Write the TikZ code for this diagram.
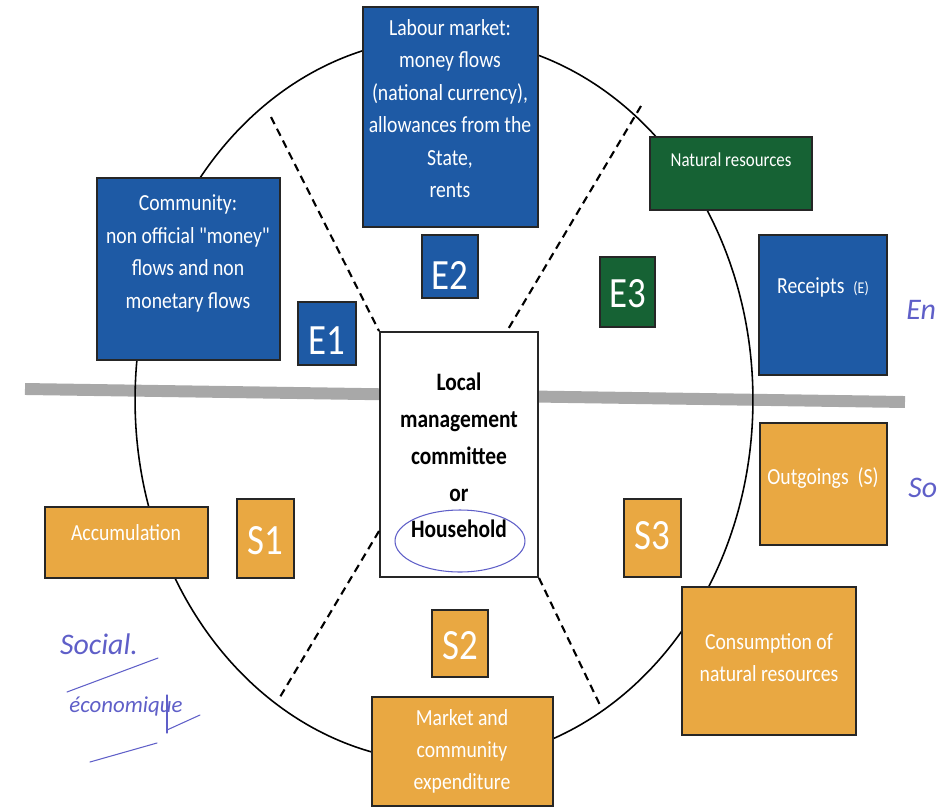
\documentclass[tikz,border=0pt]{standalone}
\usepackage{fontspec}
\setmainfont{Carlito}
\usepackage{graphicx}
\usetikzlibrary{fit, calc, shapes.geometric}

\definecolor{flowblue}{RGB}{30,90,165}
\definecolor{flowgreen}{RGB}{22,98,52}
\definecolor{flowgold}{RGB}{233,168,66}
\definecolor{bargray}{RGB}{168,168,168}
\definecolor{penblue}{RGB}{95,95,200}

\newcommand{\tall}[1]{\scalebox{1}[1.17]{#1}}
\newcommand{\tallbox}[1]{\scalebox{1}[1.17]{\begin{tabular}{@{}c@{}}#1\end{tabular}}}

\tikzset{
    box/.style = {draw=black!85, line width=1.1pt, inner sep=0pt},
    bluebox/.style = {box, fill=flowblue},
    greenbox/.style = {box, fill=flowgreen},
    goldbox/.style = {box, fill=flowgold},
    boxtext/.style = {text=white, inner sep=0pt, font=\fontsize{11.2}{15.8}\selectfont},
    tagtext/.style = {text=white, inner sep=0pt, font=\fontsize{21}{21}\selectfont},
    divider/.style = {dash pattern=on 4.5pt off 3pt, line width=1.2pt},
    pen/.style = {draw=penblue, line width=0.6pt, line cap=round},
    scrawl/.style = {text=penblue, inner sep=0pt, font=\itshape\fontsize{17}{19}\selectfont},
}

\begin{document}
\begin{tikzpicture}[x=0.02cm, y=-0.02cm]
    \useasboundingbox (0,0) rectangle (938,809);

    % bar between receipts and outgoings, and the ring
    \coordinate (barL) at (25,389);
    \coordinate (barR) at (905,402);
    \draw[draw=bargray, line width=6.8pt] (barL) -- (barR);
    \node[draw, ellipse, line width=0.9pt, inner sep=0pt,
          minimum width=12.36cm, minimum height=14.48cm] (ring) at (444,400) {};

    % central box
    \node[box, fill=white, fit={(380,332) (538,577)}] (hh) {};
    \node[inner sep=0pt, font=\bfseries\fontsize{12.2}{17.9}\selectfont] (hh-t) at (459,457)
        {\tallbox{Local\\management\\committee\\or\\Household}};

    % dashed sectors
    \coordinate (cut-nw) at (271,117);
    \coordinate (cut-ne) at (641,106);
    \coordinate (cut-sw) at (280,697);
    \coordinate (cut-se) at (600,705);
    \draw[divider] (cut-nw) -- (hh.north west);
    \draw[divider] (cut-ne) -- ($(hh.north west)!0.8!(hh.north east)$);
    \draw[divider] ($(hh.north west)!0.81!(hh.south west)$) -- (cut-sw);
    \draw[divider] (hh.south east) -- (cut-se);

    % receipts
    \node[bluebox, fit={(363,7) (538,227)}] (labour) {};
    \node[boxtext] (labour-t) at (450,110)
        {\tallbox{Labour market:\\money flows\\(national currency),\\allowances from the\\State,\\rents}};
    \node[bluebox, fit={(97,178) (280,360)}] (community) {};
    \node[boxtext] (community-t) at (188,253)
        {\tallbox{Community:\\non official \textquotedbl money\textquotedbl\\flows and non\\monetary flows}};
    \node[greenbox, fit={(650,137) (812,210)}] (nature) {};
    \node[boxtext, font=\fontsize{9.6}{12}\selectfont] (nature-t) at (731,160)
        {\tall{Natural resources}};
    \node[bluebox, fit={(759,235) (887,375)}] (receipts) {};
    \node[boxtext] (receipts-t) at (823,287)
        {\tall{Receipts\ \ {\fontsize{8}{10}\selectfont(E)}}};

    % outgoings
    \node[goldbox, fit={(760,423) (887,545)}] (outgoings) {};
    \node[boxtext] (outgoings-t) at (823,478) {\tall{Outgoings\ \ (S)}};
    \node[goldbox, fit={(45,507) (208,578)}] (accum) {};
    \node[boxtext] (accum-t) at (126,533) {\tall{Accumulation}};
    \node[goldbox, fit={(682,587) (856,735)}] (consum) {};
    \node[boxtext] (consum-t) at (769,659)
        {\tallbox{Consumption of\\natural resources}};
    \node[goldbox, fit={(372,697) (553,806)}] (market) {};
    \node[boxtext] (market-t) at (462,751)
        {\tallbox{Market and\\community\\expenditure}};

    % sector tags
    \foreach \Tag/\Fill/\xa/\ya/\xb/\yb/\Dy in {%
        E1/flowblue/298/302/356/365/7,
        E2/flowblue/422/235/478/298/9,
        E3/flowgreen/600/257/655/327/2,
        S1/flowgold/237/499/294/578/2,
        S2/flowgold/432/610/488/677/2,
        S3/flowgold/624/499/681/577/-2%
        }
    {
        \node[box, fill=\Fill, fit={(\xa,\ya) (\xb,\yb)}] (\Tag) {};
        \node[tagtext] (\Tag-t) at ($(\Tag.center)+(0,\Dy)$) {\tall{\Tag}};
    }

    % handwritten notes
    \draw[pen] (460,541) ellipse [x radius=1.3cm, y radius=0.62cm];
    \node[scrawl] (social) at (99,644) {Social.};
    \node[scrawl, font=\itshape\fontsize{13}{15}\selectfont] (econ) at (126,706) {économique};
    \draw[pen] (67,692) -- (158,658);
    \draw[pen] (167,695) -- (167,733);
    \draw[pen] (167,730) -- (200,715);
    \draw[pen] (90,762) -- (157,743);
    \node[scrawl, anchor=west] (entr) at (906,310) {En};
    \node[scrawl, anchor=west] (sort) at (908,488) {So};
\end{tikzpicture}
\end{document}
